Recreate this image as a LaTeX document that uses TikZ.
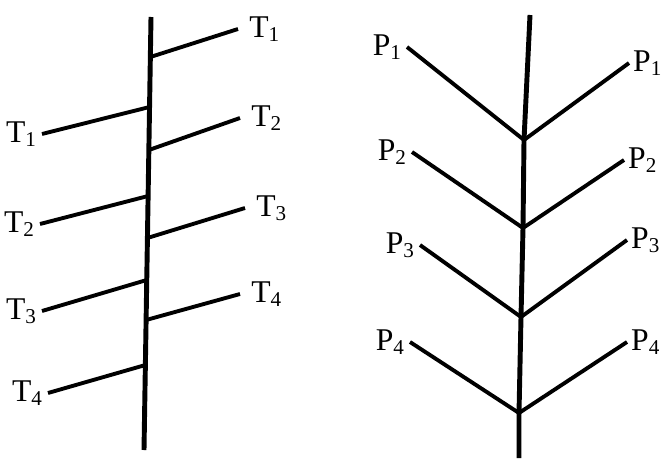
\documentclass[tikz,border=0pt]{standalone}
\usepackage{fontspec}
\setmainfont{Liberation Serif}
\usetikzlibrary{positioning}

\begin{document}
\begin{tikzpicture}[x=0.01cm,y=-0.01cm,
  stem/.style={line width=1.4pt},
  twig/.style={line width=1.1pt},
  lbl/.style={inner sep=0pt, font=\fontsize{9}{10}\selectfont}]
\useasboundingbox (0,0) rectangle (664,461);
% left stem
\coordinate (lt) at (151,17);
\coordinate (lb) at (144,450);
\draw[stem] (lt) -- (lb);
% right-hand twigs
\coordinate (r1) at (150.4,57);
\coordinate (r2) at (148.9,150);
\coordinate (r3) at (147.4,238);
\coordinate (r4) at (146.1,320);
\coordinate (er1) at (238,29);
\coordinate (er2) at (240,118);
\coordinate (er3) at (245,208);
\coordinate (er4) at (240,294);
\draw[twig] (r1) -- (er1);
\draw[twig] (r2) -- (er2);
\draw[twig] (r3) -- (er3);
\draw[twig] (r4) -- (er4);
\node[lbl, right=3pt of er1] (tr1) {T\textsubscript{1}};
\node[lbl, right=3pt of er2] (tr2) {T\textsubscript{2}};
\node[lbl, right=3pt of er3] (tr3) {T\textsubscript{3}};
\node[lbl, right=3pt of er4] (tr4) {T\textsubscript{4}};
% left-hand twigs
\coordinate (l1) at (149.5,107);
\coordinate (l2) at (148.1,196);
\coordinate (l3) at (146.7,280);
\coordinate (l4) at (145.4,365);
\coordinate (el1) at (42,134);
\coordinate (el2) at (40,224);
\coordinate (el3) at (42,311);
\coordinate (el4) at (48,393);
\draw[twig] (l1) -- (el1);
\draw[twig] (l2) -- (el2);
\draw[twig] (l3) -- (el3);
\draw[twig] (l4) -- (el4);
\node[lbl, left=1pt of el1] (tl1) {T\textsubscript{1}};
\node[lbl, left=1pt of el2] (tl2) {T\textsubscript{2}};
\node[lbl, left=1pt of el3] (tl3) {T\textsubscript{3}};
\node[lbl, left=1pt of el4] (tl4) {T\textsubscript{4}};

% right stem with forks
\coordinate (pt) at (530,15);
\coordinate (j1) at (524,140);
\coordinate (j2) at (523,228);
\coordinate (j3) at (521,317);
\coordinate (j4) at (519,413);
\coordinate (pb) at (519,458);
\draw[stem] (pt) -- (j1) -- (j2) -- (j3) -- (j4) -- (pb);
\coordinate (pl1) at (407,47);
\coordinate (pl2) at (412,152);
\coordinate (pl3) at (420,245);
\coordinate (pl4) at (410,342);
\coordinate (pr1) at (629,63);
\coordinate (pr2) at (624,160);
\coordinate (pr3) at (627,240);
\coordinate (pr4) at (627,342);
\draw[twig] (pl1) -- (j1) -- (pr1);
\draw[twig] (pl2) -- (j2) -- (pr2);
\draw[twig] (pl3) -- (j3) -- (pr3);
\draw[twig] (pl4) -- (j4) -- (pr4);
\node[lbl, left=1pt of pl1] (ql1) {P\textsubscript{1}};
\node[lbl, left=1pt of pl2] (ql2) {P\textsubscript{2}};
\node[lbl, left=1pt of pl3] (ql3) {P\textsubscript{3}};
\node[lbl, left=1pt of pl4] (ql4) {P\textsubscript{4}};
\node[lbl, right=1pt of pr1] (qr1) {P\textsubscript{1}};
\node[lbl, right=1pt of pr2] (qr2) {P\textsubscript{2}};
\node[lbl, right=1pt of pr3] (qr3) {P\textsubscript{3}};
\node[lbl, right=1pt of pr4] (qr4) {P\textsubscript{4}};
\end{tikzpicture}
\end{document}
